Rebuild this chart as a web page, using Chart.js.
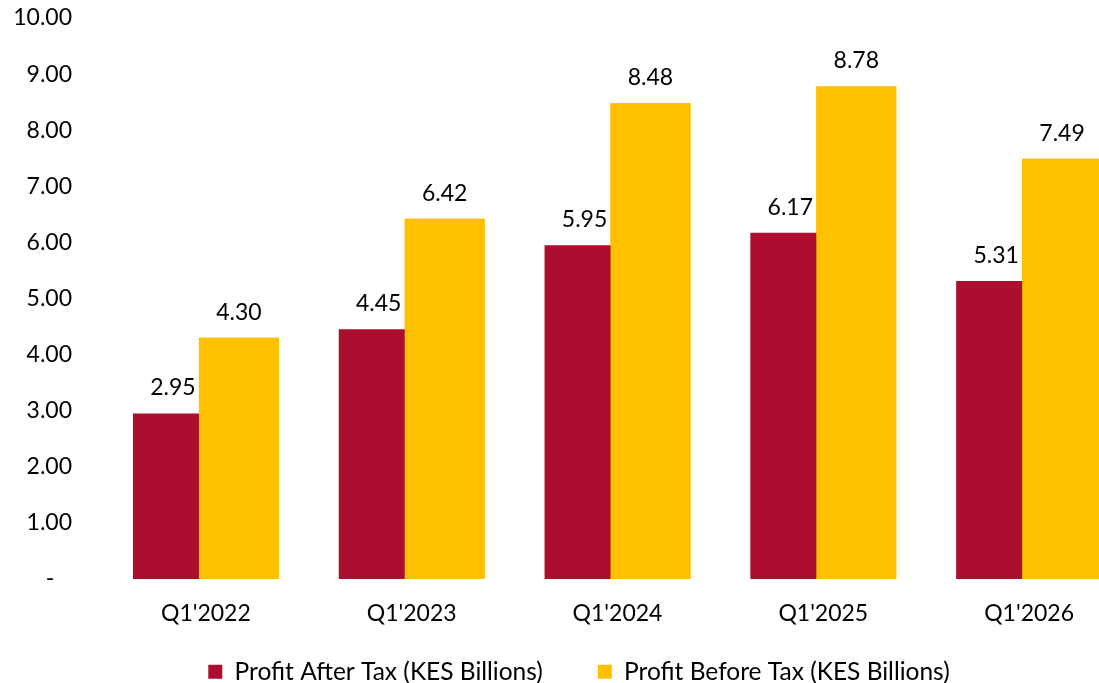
<!DOCTYPE html>
<html>
<head>
<meta charset="utf-8">
<title>Profit Before and After Tax</title>
<script src="https://cdn.jsdelivr.net/npm/chart.js@4.4.1/dist/chart.umd.min.js"></script>
<style>
    html, body { margin: 0; padding: 0; overflow: hidden; background: #fff; }
    canvas { display: block; }
</style>
</head>
<body>
<canvas id="profitChart" width="1140" height="694"></canvas>
<script>
// quarters and values (KES billions)
const quarters = ["Q1'2022", "Q1'2023", "Q1'2024", "Q1'2025", "Q1'2026"];
const profitAfterTax = [2.95, 4.45, 5.95, 6.17, 5.31];
const profitBeforeTax = [4.30, 6.42, 8.48, 8.78, 7.49];
const yTicks = [0, 1, 2, 3, 4, 5, 6, 7, 8, 9, 10];

const RED = "#AB0E2E";
const YELLOW = "#FFC000";
const FONT = "Lato, 'Open Sans', sans-serif";

// yellow bars sit over the red ones, values written above each bar
const barLabels = {
    id: "barLabels",
    afterLayout(chart) {
        // push the legend row a bit to the right
        chart.legend.left += 13;
        chart.legend.right += 13;
    },
    afterDatasetsDraw(chart) {
        chart.getDatasetMeta(1).controller.draw();

        const ctx = chart.ctx;
        ctx.save();
        ctx.font = "23px " + FONT;
        ctx.fillStyle = "#000";
        ctx.textAlign = "center";
        ctx.textBaseline = "alphabetic";
        chart.data.datasets.forEach((ds, i) => {
            chart.getDatasetMeta(i).data.forEach((bar, j) => {
                ctx.fillText(ds.data[j].toFixed(2), bar.x, bar.y - 18);
            });
        });
        ctx.restore();
    }
};

new Chart(document.getElementById("profitChart"), {
    type: "bar",
    data: {
        labels: quarters,
        datasets: [
            {
                label: "Profit After Tax (KES Billions)",
                data: profitAfterTax,
                backgroundColor: RED
            },
            {
                label: "Profit Before Tax (KES Billions)",
                data: profitBeforeTax,
                backgroundColor: YELLOW
            }
        ]
    },
    options: {
        responsive: false,
        animation: false,
        layout: { padding: { top: 18, left: 0, right: 8, bottom: 0 } },
        datasets: {
            bar: { categoryPercentage: 0.641, barPercentage: 1.212 }
        },
        plugins: {
            tooltip: { enabled: false },
            legend: {
                position: "bottom",
                labels: {
                    font: { family: FONT, size: 24.5 },
                    color: "#000",
                    boxWidth: 14,
                    boxHeight: 14,
                    padding: 11,
                    generateLabels(chart) {
                        return chart.data.datasets.map((ds, i) => ({
                            text: i === 0 ? ds.label + "       " : ds.label,
                            fillStyle: ds.backgroundColor,
                            strokeStyle: ds.backgroundColor,
                            lineWidth: 0,
                            datasetIndex: i
                        }));
                    }
                }
            }
        },
        scales: {
            x: {
                grid: { display: false, drawTicks: false },
                border: { display: false },
                ticks: {
                    font: { family: FONT, size: 23 },
                    color: "#000",
                    padding: 21
                }
            },
            y: {
                min: 0,
                max: 10,
                // tick length only spaces the labels away from the bars
                grid: { display: false, drawTicks: true, tickLength: 31 },
                border: { display: false },
                afterBuildTicks(scale) {
                    scale.ticks = yTicks.map(v => ({ value: v }));
                },
                afterFit(scale) {
                    scale.width = 103;
                },
                ticks: {
                    font: { family: FONT, size: 23 },
                    color: "#000",
                    padding: 0,
                    callback: v => (v === 0 ? "-   " : v.toFixed(2))
                }
            }
        }
    },
    plugins: [barLabels]
});
</script>
</body>
</html>
